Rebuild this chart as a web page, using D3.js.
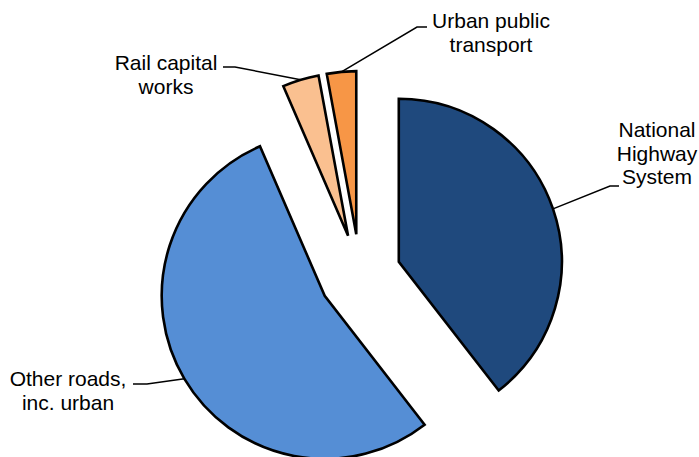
<!DOCTYPE html>
<html>
<head>
<meta charset="utf-8">
<script src="https://cdn.jsdelivr.net/npm/d3@7"></script>
<style>
  html, body { margin: 0; padding: 0; background: #fff; }
  svg { display: block; }
  text { font-family: "Liberation Sans", Arial, sans-serif; font-size: 21px; fill: #000; }
</style>
</head>
<body>
<svg id="chart" width="699" height="457"></svg>
<script>
// Share of funding by category (fractions of the whole)
const categories = ["National Highway System", "Other roads, inc. urban", "Rail capital works", "Urban public transport"];
const shares = [0.395, 0.54, 0.036, 0.029];
const labelLines = [
  ["National", "Highway", "System"],
  ["Other roads,", "inc. urban"],
  ["Rail capital", "works"],
  ["Urban public", "transport"]
];
const colors = ["#1F497D", "#558ED5", "#FAC090", "#F79646"];

// Layout
const width = 699, height = 457;
const cx = 360, cy = 275, radius = 163, explode = 41;
const lineHeight = 23.6;
// label block anchor (centre x, first baseline y) and leader elbow / end points
const labelLayout = [
  { x: 657, y: 137, elbow: [610, 186], end: [619, 186] },
  { x: 68,  y: 386, elbow: [147, 384], end: [133, 384] },
  { x: 166, y: 70,  elbow: [235, 67],  end: [223, 67] },
  { x: 491, y: 28,  elbow: [417, 27],  end: [427, 27] }
];

const svg = d3.select("#chart");
const g = svg.append("g").attr("transform", `translate(${cx},${cy})`);

const data = categories.map((c, i) => ({ name: c, value: shares[i], i }));
const pie = d3.pie().sort(null).value(d => d.value).startAngle(0).endAngle(2 * Math.PI);
const arcs = pie(data);
const arc = d3.arc().innerRadius(0).outerRadius(radius);

function offset(a) {
  const m = (a.startAngle + a.endAngle) / 2;
  return [explode * Math.sin(m), -explode * Math.cos(m)];
}

g.selectAll("path.slice")
  .data(arcs)
  .join("path")
  .attr("class", "slice")
  .attr("transform", d => { const o = offset(d); return `translate(${o[0]},${o[1]})`; })
  .attr("d", arc)
  .attr("fill", d => colors[d.data.i])
  .attr("stroke", "#000")
  .attr("stroke-width", 2.6)
  .attr("stroke-linejoin", "miter");

// Leader lines from the outer edge of each slice to its label
const lines = svg.append("g");
arcs.forEach(d => {
  const o = offset(d);
  const m = (d.startAngle + d.endAngle) / 2;
  const sx = cx + o[0] + radius * Math.sin(m);
  const sy = cy + o[1] - radius * Math.cos(m);
  const L = labelLayout[d.data.i];
  lines.append("path")
    .attr("d", d3.line()([[sx, sy], L.elbow, L.end]))
    .attr("fill", "none")
    .attr("stroke", "#000")
    .attr("stroke-width", 1.5);
});

// Labels
const labels = svg.append("g");
arcs.forEach(d => {
  const L = labelLayout[d.data.i];
  const t = labels.append("text").attr("text-anchor", "middle");
  labelLines[d.data.i].forEach((line, k) => {
    t.append("tspan").attr("x", L.x).attr("y", L.y + k * lineHeight).text(line);
  });
});
</script>
</body>
</html>
